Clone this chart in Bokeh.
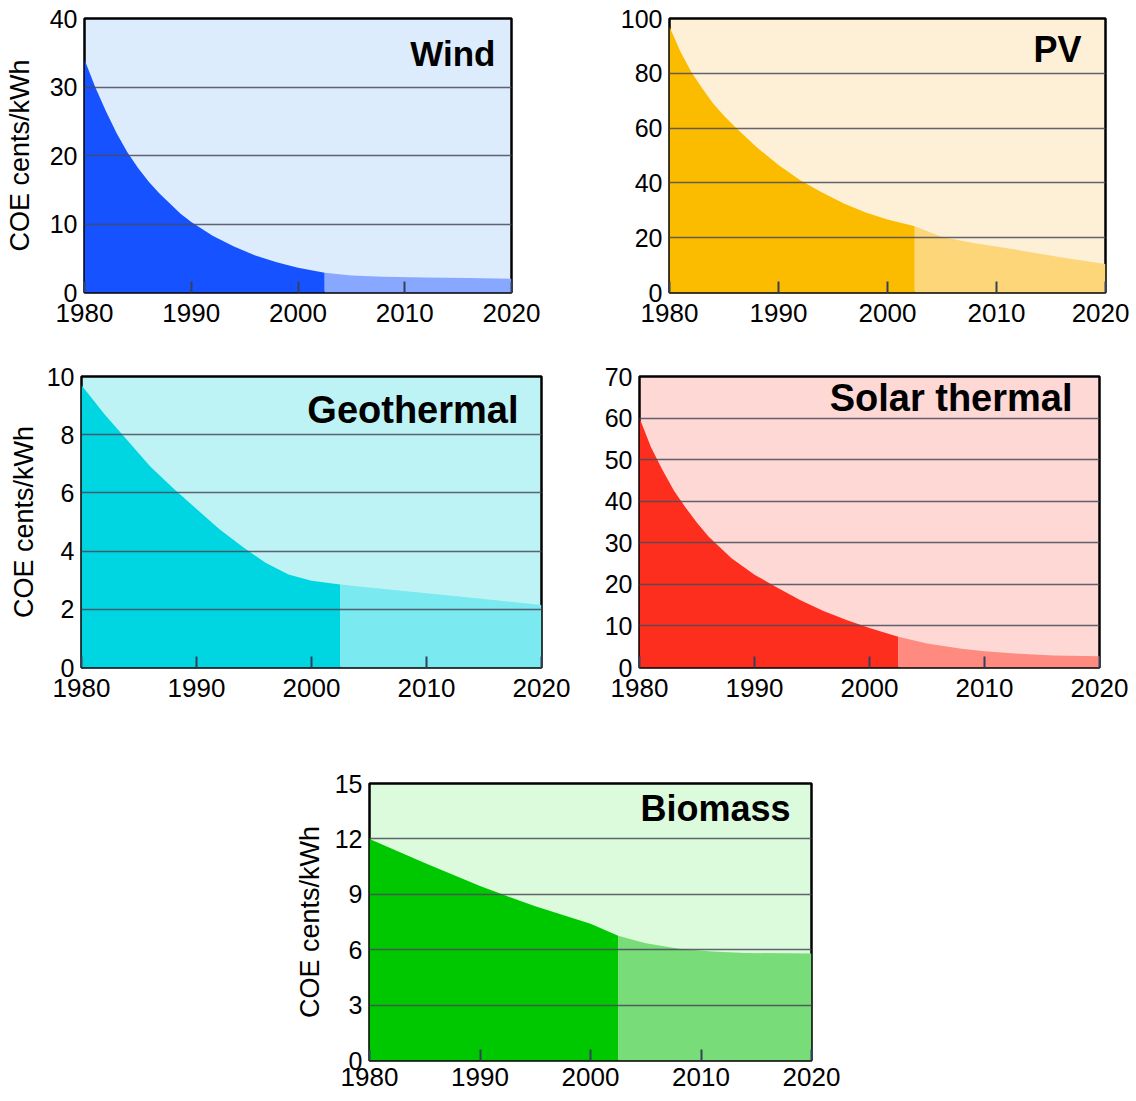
from bokeh.plotting import figure
from bokeh.models import Range1d, Label, FixedTicker, Spacer
from bokeh.layouts import column, row
from bokeh.embed import file_html
from bokeh.resources import INLINE

# ---------------- data ----------------
YEAR_TICKS = [1980, 1990, 2000, 2010, 2020]
SPLIT_YEAR = 2002.5  # dark (historical) -> light (projected)

wind_years = [1980, 1981, 1982, 1983, 1984, 1985, 1986, 1987, 1988, 1989, 1990,
              1992, 1994, 1996, 1998, 2000, 2002.5, 2005, 2008, 2012, 2016, 2020]
wind_coe = [34, 30, 26.5, 23.3, 20.5, 18.2, 16.2, 14.5, 13, 11.5, 10.3,
            8.3, 6.7, 5.4, 4.4, 3.6, 2.9, 2.5, 2.3, 2.2, 2.1, 2.0]
wind_ticks = [0, 10, 20, 30, 40]

pv_years = [1980, 1981, 1982, 1983, 1984, 1985, 1986, 1988, 1990, 1992, 1994,
            1996, 1998, 2000, 2002.5, 2005, 2008, 2010, 2013, 2016, 2020]
pv_coe = [97, 88, 80.5, 74.5, 69, 64.5, 60.5, 53, 46.5, 41, 36.5,
          32.5, 29.2, 26.6, 24.2, 20.3, 18, 16.8, 14.8, 12.8, 10.4]
pv_ticks = [0, 20, 40, 60, 80, 100]

geo_years = [1980, 1982, 1984, 1986, 1988, 1990, 1992, 1994, 1996, 1998, 2000,
             2002.5, 2005, 2010, 2015, 2020]
geo_coe = [9.7, 8.7, 7.8, 6.9, 6.15, 5.45, 4.75, 4.15, 3.6, 3.2, 2.98,
           2.85, 2.75, 2.55, 2.35, 2.15]
geo_ticks = [0, 2, 4, 6, 8, 10]

solar_years = [1980, 1981, 1982, 1983, 1984, 1985, 1986, 1988, 1990, 1992, 1994,
               1996, 1998, 2000, 2002.5, 2005, 2008, 2010, 2013, 2016, 2020]
solar_coe = [60, 53, 47.5, 42.5, 38.5, 34.8, 31.5, 26.3, 22.3, 19.2, 16.2,
             13.6, 11.4, 9.5, 7.4, 5.8, 4.5, 3.9, 3.3, 2.9, 2.7]
solar_ticks = [0, 10, 20, 30, 40, 50, 60, 70]

bio_years = [1980, 1985, 1990, 1992, 1995, 2000, 2002.5, 2005, 2008, 2011, 2014, 2020]
bio_coe = [12, 10.7, 9.45, 9.0, 8.35, 7.4, 6.75, 6.35, 6.05, 5.9, 5.82, 5.8]
bio_ticks = [0, 3, 6, 9, 12, 15]

Y_LABEL = "COE cents/kWh"
FONT = "Liberation Sans"


def make_panel(name, years, values, yticks, bg, dark, light, ylabel,
               borders, frame, title_inset, title_drop, title_size,
               label_standoff=12, xlabel_standoff=11):
    left, right, top, bottom = borders
    fw, fh = frame
    ymax = yticks[-1]
    p = figure(output_backend="svg", toolbar_location=None,
               frame_width=fw, frame_height=fh,
               min_border_left=left, min_border_right=right,
               min_border_top=top, min_border_bottom=bottom,
               x_range=Range1d(YEAR_TICKS[0], YEAR_TICKS[-1]),
               y_range=Range1d(0, ymax))
    p.background_fill_color = bg
    p.border_fill_color = "white"
    p.outline_line_color = "black"
    p.outline_line_width = 2.5

    hx = [x for x in years if x <= SPLIT_YEAR]
    hy = values[:len(hx)]
    fx = [x for x in years if x >= SPLIT_YEAR]
    fy = values[len(years) - len(fx):]
    p.varea(x=hx, y1=0, y2=hy, fill_color=dark)
    p.varea(x=fx, y1=0, y2=fy, fill_color=light)

    p.xgrid.visible = False
    p.ygrid.ticker = FixedTicker(ticks=yticks)
    p.ygrid.grid_line_color = "#4a4a5a"
    p.ygrid.grid_line_alpha = 0.85
    p.ygrid.grid_line_width = 1.6
    p.ygrid.level = "overlay"

    xa = p.xaxis[0]
    xa.ticker = FixedTicker(ticks=YEAR_TICKS)
    xa.major_tick_in = 11
    xa.major_tick_out = 0
    xa.major_tick_line_color = "#34405a"
    xa.major_tick_line_width = 2
    xa.minor_tick_line_color = None
    xa.axis_line_color = None
    xa.major_label_standoff = xlabel_standoff
    xa.major_label_text_font = FONT
    xa.major_label_text_font_size = "26px"
    xa.major_label_text_color = "black"

    ya = p.yaxis[0]
    ya.ticker = FixedTicker(ticks=yticks)
    ya.major_tick_in = 0
    ya.major_tick_out = 0
    ya.minor_tick_line_color = None
    ya.major_tick_line_color = None
    ya.axis_line_color = None
    ya.major_label_standoff = 7
    ya.major_label_text_font = FONT
    ya.major_label_text_font_size = "25px"
    ya.major_label_text_color = "black"
    if ylabel:
        ya.axis_label = Y_LABEL
        ya.axis_label_text_font = FONT
        ya.axis_label_text_font_size = "27px"
        ya.axis_label_text_font_style = "normal"
        ya.axis_label_text_color = "black"
        ya.axis_label_standoff = label_standoff

    p.add_layout(Label(x=YEAR_TICKS[-1], y=ymax, x_offset=-title_inset,
                       y_offset=-title_drop, text=name, text_align="right",
                       text_baseline="alphabetic", text_font=FONT,
                       text_font_size=title_size, text_font_style="bold",
                       text_color="black"))
    return p


p_wind = make_panel("Wind", wind_years, wind_coe, wind_ticks,
                    "#dcecfd", "#1652ff", "#88a8ff", True,
                    (84, 100, 18, 47), (427, 274), 16, 35, "35px", 12)
p_pv = make_panel("PV", pv_years, pv_coe, pv_ticks,
                  "#fdf0d6", "#fbbc00", "#fcd678", False,
                  (58, 24, 18, 47), (436, 274), 24, 31, "36px")
p_geo = make_panel("Geothermal", geo_years, geo_coe, geo_ticks,
                   "#bdf3f5", "#00d6e2", "#7ae9f0", True,
                   (81, 48, 37, 70), (460, 291), 23, 33, "38px", 5)
p_solar = make_panel("Solar thermal", solar_years, solar_coe, solar_ticks,
                     "#fdd8d5", "#fe2e1e", "#fe8a80", False,
                     (50, 30, 37, 70), (460, 291), 27, 21, "38px")
p_bio = make_panel("Biomass", bio_years, bio_coe, bio_ticks,
                   "#dcfadc", "#00c800", "#78dc78", True,
                   (82, 30, 46, 30), (442, 277), 21, 25, "36px", 7, 7)

layout = column(
    row(p_wind, p_pv),
    row(p_geo, p_solar),
    row(Spacer(width=287, height=10), p_bio),
)

open("out.html", "w").write(file_html(layout, INLINE))
